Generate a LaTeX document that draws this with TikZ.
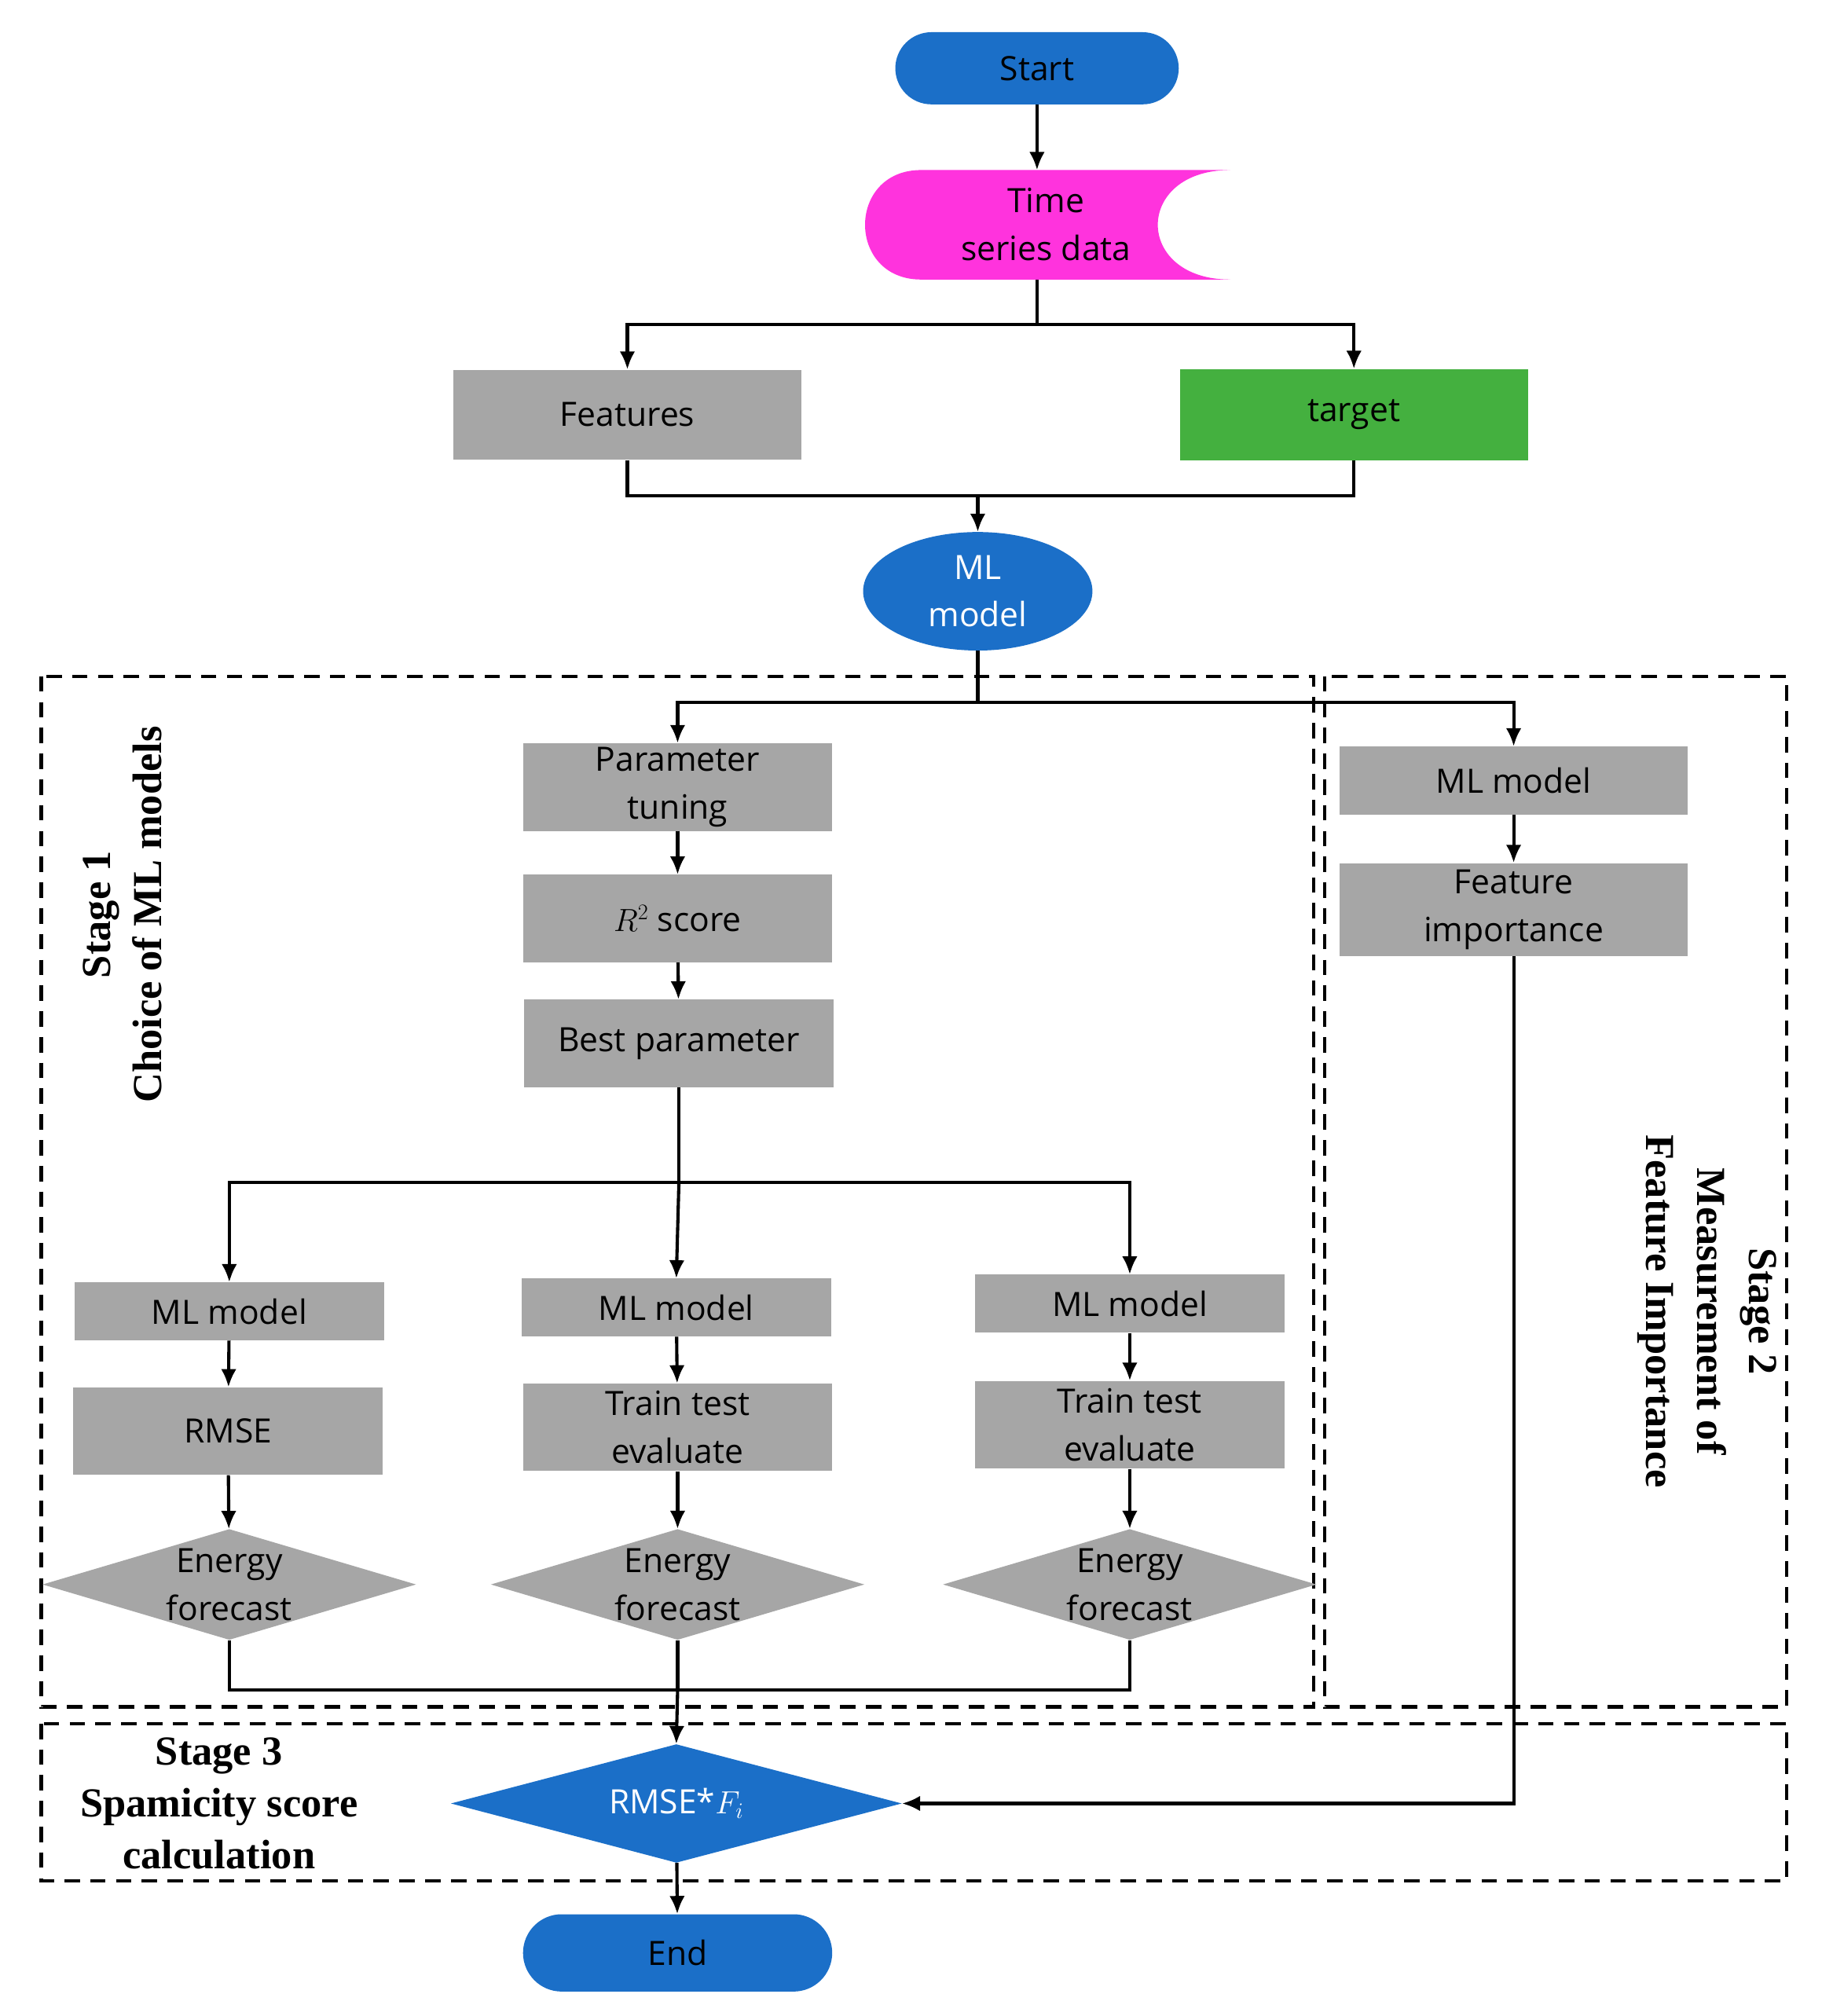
\documentclass[tikz,border=0pt]{standalone}
\usepackage{fontspec}
\setmainfont{Open Sans}
\newfontfamily\stagefont{Liberation Serif}
\usetikzlibrary{shapes.geometric,arrows.meta}
\definecolor{flowblue}{HTML}{1B6FC8}
\definecolor{boxgray}{HTML}{A6A6A6}
\definecolor{tgtgreen}{HTML}{44B03F}
\definecolor{tsmagenta}{HTML}{FF33DD}
\tikzset{
  box/.style={rectangle, fill=boxgray, minimum width=240pt, minimum height=68pt, align=center, inner sep=0pt},
  term/.style={rounded rectangle, fill=flowblue, minimum height=58pt, inner sep=0pt},
  energy/.style={diamond, fill=boxgray, aspect=3.4, minimum width=290pt, minimum height=86pt, inner sep=0pt, align=center},
  stagebox/.style={draw, dashed, line width=2.5pt, dash pattern=on 12pt off 8pt},
  stagetext/.style={font=\stagefont\fontsize{32}{40}\selectfont\bfseries, align=center},
  flow/.style={draw, line width=2.5pt, -{Latex[length=14pt,width=12pt]}},
  line/.style={draw, line width=2.5pt}
}
\usetikzlibrary{shapes.misc}
\begin{document}
\begin{tikzpicture}[x=1pt,y=-1pt,font=\fontsize{26}{37}\selectfont]
  \useasboundingbox (0,0) rectangle (1414,1565);
  % stage frames
  \path[stagebox] (32,525) rectangle (1020,1325);
  \path[stagebox] (1028,525) rectangle (1387,1325);
  \path[stagebox] (32,1338) rectangle (1387,1460);
  \node[stagetext, rotate=90] (s1) at (95,710) {Stage 1\\Choice of ML models};
  \node[stagetext, rotate=-90] (s2) at (1325,1018) {Stage 2\\Measurement of\\Feature Importance};
  \node[stagetext] (s3) at (170,1400) {Stage 3\\Spamicity score\\calculation};
  % top part
  \node[term, minimum width=220pt, minimum height=56pt] (start) at (805,53) {Start};
  \fill[tsmagenta] (955,132) -- (715,132) .. controls (657,132) and (657,217) .. (715,217)
    -- (955,217) .. controls (880,217) and (880,132) .. (955,132) -- cycle;
  \node[minimum width=285pt, minimum height=85pt, align=center, inner sep=0pt] (ts) at (812,174) {Time\\series data};
  \node[box, minimum width=270pt, minimum height=70pt] (feat) at (487,322) {Features};
  \node[box, fill=tgtgreen, minimum width=270pt, minimum height=71pt] (tgt) at (1051,322) {target};
  \node[ellipse, fill=flowblue, text=white, minimum width=178pt, minimum height=92pt, align=center, inner sep=0pt] (ml) at (759,459) {ML\\model};
  % stage 1
  \node[box] (tune) at (526,611) {Parameter\\tuning};
  \node[box] (r2) at (526,713) {$R^2$ score};
  \node[box] (best) at (527,810) {Best parameter};
  \node[box, minimum height=45pt] (mla) at (178,1018) {ML model};
  \node[box, minimum height=45pt] (mlb) at (525,1015) {ML model};
  \node[box, minimum height=45pt] (mlc) at (877,1012) {ML model};
  \node[box] (rmse) at (177,1111) {RMSE};
  \node[box] (tta) at (526,1108) {Train test\\evaluate};
  \node[box] (ttb) at (877,1106) {Train test\\evaluate};
  \node[energy] (ena) at (178,1230) {Energy\\forecast};
  \node[energy] (enb) at (526,1230) {Energy\\forecast};
  \node[energy] (enc) at (877,1230) {Energy\\forecast};
  % stage 2
  \node[box, minimum width=270pt, minimum height=53pt] (mld) at (1175,606) {ML model};
  \node[box, minimum width=270pt, minimum height=72pt] (fimp) at (1175,706) {Feature\\importance};
  % stage 3
  \node[diamond, fill=flowblue, text=white, aspect=3.9, minimum width=350pt, minimum height=92pt, inner sep=0pt] (score) at (525,1400) {RMSE*$F_i$};
  \node[term, minimum width=240pt, minimum height=60pt] (fin) at (526,1516) {End};
  % connectors
  \path[flow] (start) -- (805,132);
  \path[line] (805,217) -- (805,252) coordinate (split);
  \path[flow] (split) -| (feat.north);
  \path[flow] (split) -| (tgt.north);
  \path[line] (feat.south) |- (759,385) coordinate (merge) -| (tgt.south);
  \path[flow] (merge) -- (ml.north);
  \path[line] (ml.south) -- (759,545) coordinate (fork);
  \path[flow] (fork) -| (tune.north);
  \path[flow] (fork) -| (mld.north);
  \path[flow] (tune) -- (r2);
  \path[flow] (r2) -- (best);
  \path[line] (best.south) -- (527,918) coordinate (fan);
  \path[flow] (fan) -| (mla.north);
  \path[flow] (fan) -| (mlc.north);
  \path[flow] (fan) -- (mlb.north);
  \path[flow] (mla) -- (rmse);
  \path[flow] (mlb) -- (tta);
  \path[flow] (mlc) -- (ttb);
  \path[flow] (rmse) -- (ena);
  \path[flow] (tta) -- (enb);
  \path[flow] (ttb) -- (enc);
  \path[line] (ena.south) |- (526,1312) coordinate (join) -| (enc.south);
  \path[line] (enb.south) -- (join);
  \path[flow] (join) -- (score.north);
  \path[flow] (mld) -- (fimp);
  \path[flow] (fimp.south) |- (score.east);
  \path[flow] (score) -- (fin);
\end{tikzpicture}
\end{document}
